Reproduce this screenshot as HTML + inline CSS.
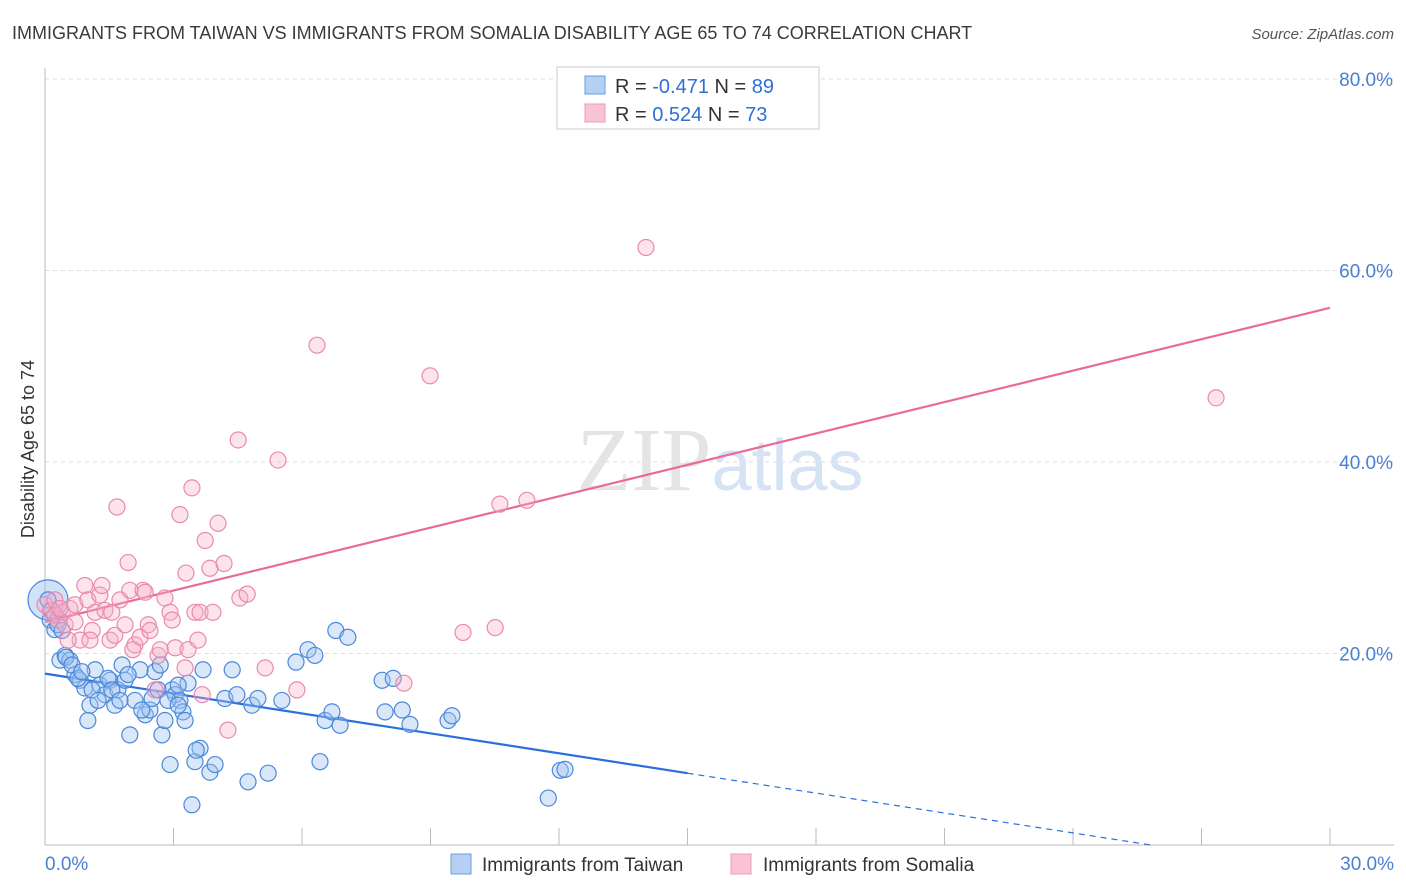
<!DOCTYPE html>
<html><head><meta charset="utf-8"><style>
body{margin:0;background:#fff;font-family:"Liberation Sans",sans-serif;}
svg{display:block}
</style></head><body>
<svg id="chart" width="1406" height="892">
<text x="12" y="39" font-size="18" fill="#3a3a3a">IMMIGRANTS FROM TAIWAN VS IMMIGRANTS FROM SOMALIA DISABILITY AGE 65 TO 74 CORRELATION CHART</text>
<text x="1394" y="39" font-size="15" fill="#555" font-style="italic" text-anchor="end">Source: ZipAtlas.com</text>
<text x="40" y="455" font-size="18" fill="#333" text-anchor="middle" transform="rotate(-90 34 455)">Disability Age 65 to 74</text>
<g id="grid"></g><g id="ticks"></g>
<text x="720" y="490" font-size="90" fill="#e4e4e4" text-anchor="middle" font-family="Liberation Serif">ZIP<tspan fill="#d6e3f5" font-family="Liberation Sans" font-size="72">atlas</tspan></text>
<g id="lines"></g><g id="pts"></g>
<g>
<rect x="557" y="67" width="262" height="62" fill="#fff" stroke="#ccc"/>
<rect x="585" y="76" width="20" height="18" fill="#b5d0f2" stroke="#6a9ee0"/>
<rect x="585" y="104" width="20" height="18" fill="#f8c4d4" stroke="#ec9ab6"/>
<text x="615" y="93" font-size="20" fill="#333">R = <tspan fill="#2f6fd6">-0.471</tspan>   N = <tspan fill="#2f6fd6">89</tspan></text>
<text x="615" y="121" font-size="20" fill="#333">R =  <tspan fill="#2f6fd6">0.524</tspan>   N = <tspan fill="#2f6fd6">73</tspan></text>
</g>
<g>
<rect x="451" y="854" width="20" height="20" fill="#b5d0f2" stroke="#6a9ee0"/>
<text x="482" y="871" font-size="19" fill="#333">Immigrants from Taiwan</text>
<rect x="731" y="854" width="20" height="20" fill="#f8c4d4" stroke="#ec9ab6"/>
<text x="763" y="871" font-size="19" fill="#333">Immigrants from Somalia</text>
</g>
</svg>
<script>
const blueX=[0.12,0.23,0.35,0.47,0.58,0.70,0.82,0.93,1.0,1.05,1.17,1.28,1.40,1.52,1.63,1.70,1.80,1.87,1.98,2.10,2.22,2.34,2.45,2.57,2.69,2.73,2.80,2.92,2.97,3.04,3.15,3.22,3.27,3.34,3.43,3.50,3.62,3.69,3.85,3.97,4.20,4.37,4.48,4.74,4.83,4.97,5.21,5.53,5.86,6.14,6.30,6.42,6.54,6.70,6.79,6.89,7.07,7.87,7.94,8.13,8.34,8.52,9.41,9.50,11.75,12.03,12.14,0.07,0.16,0.30,0.40,0.49,0.63,0.77,0.86,1.10,1.24,1.47,1.56,1.75,1.94,2.26,2.50,2.64,2.87,3.11,3.53,3.11];
const blueY=[23.5,22.5,19.3,19.8,19.3,17.8,17.2,16.4,13.0,14.6,18.3,16.7,15.7,17.2,14.6,16.2,18.8,17.2,11.5,15.1,18.3,13.6,14.1,18.1,18.8,11.5,13.0,8.4,16.2,15.7,15.1,13.9,13.0,16.9,4.2,8.7,10.1,18.3,7.6,8.4,15.3,18.3,15.7,6.6,14.6,15.3,7.5,15.1,19.1,20.4,19.8,8.7,13.0,13.9,22.4,12.5,21.7,17.2,13.9,17.4,14.1,12.6,13.0,13.5,4.9,7.8,7.9,25.6,24.5,23.0,22.4,19.6,18.8,17.4,18.1,16.2,15.1,17.4,16.2,15.1,17.8,14.1,15.3,16.2,15.1,14.6,9.9,16.7];
const pinkX=[0,0.12,0.23,0.30,0.40,0.47,0.58,0.70,0.82,0.93,1.0,1.10,1.17,1.28,1.33,1.40,1.52,1.63,1.68,1.75,1.87,1.94,1.98,2.10,2.22,2.29,2.34,2.41,2.45,2.57,2.64,2.69,2.80,2.92,3.04,3.15,3.27,3.29,3.34,3.43,3.50,3.57,3.62,3.74,3.85,3.92,4.04,4.18,4.27,4.51,4.55,4.72,5.14,5.44,5.88,6.35,8.38,8.99,9.76,10.51,10.62,11.25,14.03,27.34,0.23,0.35,0.54,1.05,1.56,2.05,2.97,3.67,0.70];
const pinkY=[25.1,24.5,24.0,23.5,24.3,23.0,24.7,25.1,21.4,27.1,25.6,22.4,24.3,26.1,27.1,24.5,21.4,21.9,35.3,25.6,23.0,29.5,26.6,20.9,21.7,26.6,26.4,23.0,22.4,16.2,19.8,20.4,25.8,24.3,20.6,34.5,18.5,28.4,20.4,37.3,24.3,21.4,24.3,31.8,28.9,24.3,33.6,29.4,12.0,42.3,25.8,26.2,18.5,40.2,16.2,52.2,16.9,49.0,22.2,22.7,35.6,36.0,62.4,46.7,25.6,24.7,21.4,21.4,24.3,20.4,23.5,15.7,23.3];
const blueTrend=[17.9,7.5];
const pinkTrend=[23.3,56.1];
const yTicks=[20,40,60,80];
const xTickVals=[0,3,6,9,12,15,18,21,24,27,30];
const NS='http://www.w3.org/2000/svg';
const sx=v=>45+v*(1285/30), sy=v=>845-v*9.575;
function mk(tag,attrs,parent){const e=document.createElementNS(NS,tag);for(const k in attrs)e.setAttribute(k,attrs[k]);document.getElementById(parent).appendChild(e);return e;}
yTicks.forEach(t=>{
 const l=mk('line',{x1:45,x2:1394,y1:sy(t),y2:sy(t),stroke:'#ddd','stroke-dasharray':'4 4'},'grid');
 
 
 const tx=mk('text',{x:1393,y:sy(t)+7,'font-size':19,fill:'#4a7fd4','text-anchor':'end'},'ticks');
 tx.textContent=t.toFixed(1)+'%';
 
 
});
const topGrid=mk('line',{x1:45,x2:1394,y1:79,y2:79,stroke:'#ddd','stroke-dasharray':'4 4'},'grid');


const xa=mk('line',{x1:45,x2:1394,y1:845,y2:845,stroke:'#bbb'},'grid');


const ya=mk('line',{x1:45,x2:45,y1:68,y2:845,stroke:'#bbb'},'grid');


xTickVals.forEach(t=>{
 const l=mk('line',{x1:sx(t),x2:sx(t),y1:828,y2:845,stroke:'#bbb'},'ticks');
 
 
});
[[0,'0.0%','start',45],[30,'30.0%','end',1394]].forEach(([v,s,a,x])=>{
 const tx=mk('text',{x:x,y:870,'font-size':19,fill:'#4a7fd4','text-anchor':a},'ticks');
 tx.textContent=s;
 
 
});
const bigDot=mk('circle',{cx:sx(0.07),cy:sy(25.6),r:20,fill:'rgba(150,190,240,0.45)',stroke:'#4a88dc','stroke-width':1.2},'pts');


blueX.forEach((x,i)=>{
 const c=mk('circle',{cx:sx(x),cy:sy(blueY[i]),r:8,fill:'rgba(160,196,240,0.4)',stroke:'#4a88dc','stroke-width':1.2},'pts');
 
 
});
pinkX.forEach((x,i)=>{
 const c=mk('circle',{cx:sx(x),cy:sy(pinkY[i]),r:8,fill:'rgba(245,175,200,0.35)',stroke:'#ea8aac','stroke-width':1.2},'pts');
 
 
});
const slope=(blueTrend[1]-blueTrend[0])/15;
const b1=mk('line',{x1:sx(0),y1:sy(blueTrend[0]),x2:sx(15),y2:sy(blueTrend[1]),stroke:'#2a6fdb','stroke-width':2.2},'lines');


const xz=-blueTrend[0]/slope;
const b2=mk('line',{x1:sx(15),y1:sy(blueTrend[1]),x2:sx(xz),y2:sy(0),stroke:'#2a6fdb','stroke-width':1.2,'stroke-dasharray':'6 5'},'lines');


const p1=mk('line',{x1:sx(0),y1:sy(pinkTrend[0]),x2:sx(30),y2:sy(pinkTrend[1]),stroke:'#e8699a','stroke-width':2.2},'lines');


</script>
</body></html>
